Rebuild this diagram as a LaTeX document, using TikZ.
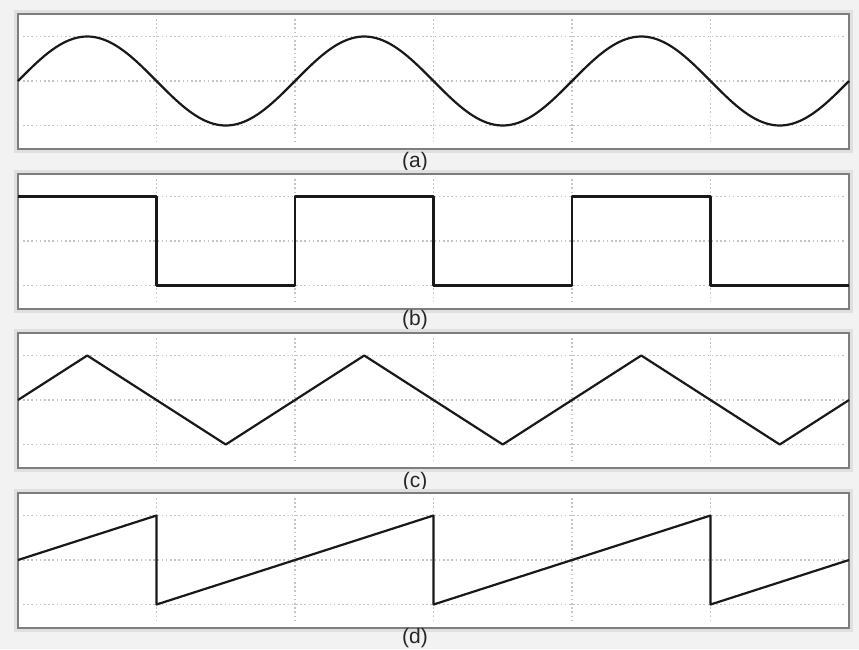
\documentclass[tikz,border=0pt]{standalone}
\usepackage{fontspec}
\setmainfont{Liberation Sans}
\usetikzlibrary{calc}
\definecolor{fond}{HTML}{F2F2F2}
\definecolor{cadre}{HTML}{7E7E7E}
\definecolor{grille}{HTML}{C4C4C4}
\tikzset{
  ombre/.style={draw=black!12, line width=8pt},
  panneau/.style={draw=cadre, line width=2.8pt, fill=white},
  gridline/.style={draw=grille, line width=1.2pt, dash pattern=on 1.6pt off 2.6pt},
  onde/.style={draw=black!90, line width=2.2pt, line join=round},
  legende/.style={font=\fontsize{21}{24}\selectfont, text=black!85, inner sep=0pt},
}

\begin{document}
\begin{tikzpicture}[x=1pt,y=-1pt]
  \fill[fond] (0,0) rectangle (859,649);
  \useasboundingbox (0,0) rectangle (859,649);
  \foreach \haut/\lab/\ly in {14/a/162, 174/b/320, 333/c/482, 493/d/638}{
    \draw[ombre] (18,\haut) rectangle (849,\haut+135);
    \draw[panneau] (18,\haut) rectangle (849,\haut+135);
    \foreach \k in {1,...,5}
      \draw[gridline] ({18+138.5*\k},\haut+5) -- ({18+138.5*\k},\haut+130);
    \foreach \dy in {22.5,67,111.5}
      \draw[gridline] (23,\haut+\dy) -- (844,\haut+\dy);
    \node[legende] (lbl\lab) at (415,\ly) {(\lab)};
  }
  \draw[onde] plot[domain=0:831, samples=240, smooth] ({18+\x},{81-44.5*sin(1.29964*\x)});
  \draw[onde] (18,196.5) -| (156.5,285.5) -| (295,196.5) -| (433.5,285.5) -| (572,196.5) -| (710.5,285.5) -- (849,285.5);
  \draw[onde] (18,400) -- (87.25,355.5) -- (225.75,444.5) -- (364.25,355.5) -- (502.75,444.5)
    -- (641.25,355.5) -- (779.75,444.5) -- (849,400);
  \draw[onde] (18,560) -- (156.5,515.5) -- (156.5,604.5) -- (433.5,515.5) -- (433.5,604.5)
    -- (710.5,515.5) -- (710.5,604.5) -- (849,560);
\end{tikzpicture}
\end{document}
